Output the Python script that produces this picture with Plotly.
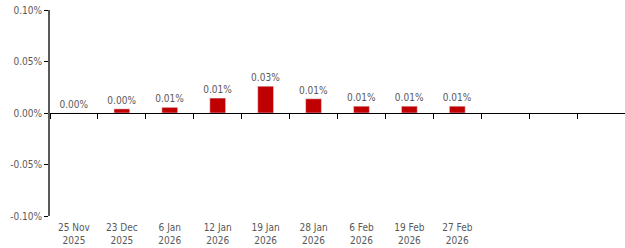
import plotly.graph_objects as go

categories = ["25 Nov<br>2025", "23 Dec<br>2025", "6 Jan<br>2026", "12 Jan<br>2026", "19 Jan<br>2026",
              "28 Jan<br>2026", "6 Feb<br>2026", "19 Feb<br>2026", "27 Feb<br>2026", " ", "  ", "   "]
values = [0.0, 0.004, 0.0055, 0.0145, 0.026, 0.0138, 0.0066, 0.0066, 0.0066, None, None, None]
ytick_vals = [-0.10, -0.05, 0.0, 0.05, 0.10]
ytick_text = ["-0.10%", "-0.05%", "0.00%", "0.05%", "0.10%"]

font_family = "DejaVu Sans Condensed, DejaVu Sans, sans-serif"
grey = "#595959"

labels = [("%.2f%%" % v) if v is not None else "" for v in values]

fig = go.Figure()
fig.add_trace(go.Bar(
    x=categories, y=values, marker_color="#C00000",
    text=labels, textposition="outside", cliponaxis=False, constraintext="none",
    textfont=dict(family=font_family, size=10, color=grey),
))
fig.update_layout(
    width=625, height=248,
    margin=dict(l=50, r=0, t=10, b=32, autoexpand=False),
    paper_bgcolor="white", plot_bgcolor="white",
    showlegend=False, bargap=0.67,
    font=dict(family=font_family, size=10, color=grey),
)
fig.update_xaxes(
    type="category", categoryorder="array", categoryarray=categories,
    showline=True, linecolor="#000000", linewidth=1,
    anchor="free", position=0.5,
    ticks="outside", tickson="boundaries", ticklen=5, tickcolor="#000000",
    ticklabelstandoff=105, automargin=False,
    showgrid=False, zeroline=False,
    tickfont=dict(family=font_family, size=10, color=grey),
)
fig.update_yaxes(
    range=[-0.10, 0.10], tickvals=ytick_vals, ticktext=ytick_text, tickmode="array",
    showline=True, linecolor=grey, linewidth=2, automargin=False,
    ticks="outside", ticklen=4, tickcolor="#000000",
    showgrid=False, zeroline=False,
    tickfont=dict(family=font_family, size=10, color=grey),
)
fig.write_html("out.html", config={"displayModeBar": False},
               post_script="document.body.style.margin='0';document.body.style.overflow='hidden';")
